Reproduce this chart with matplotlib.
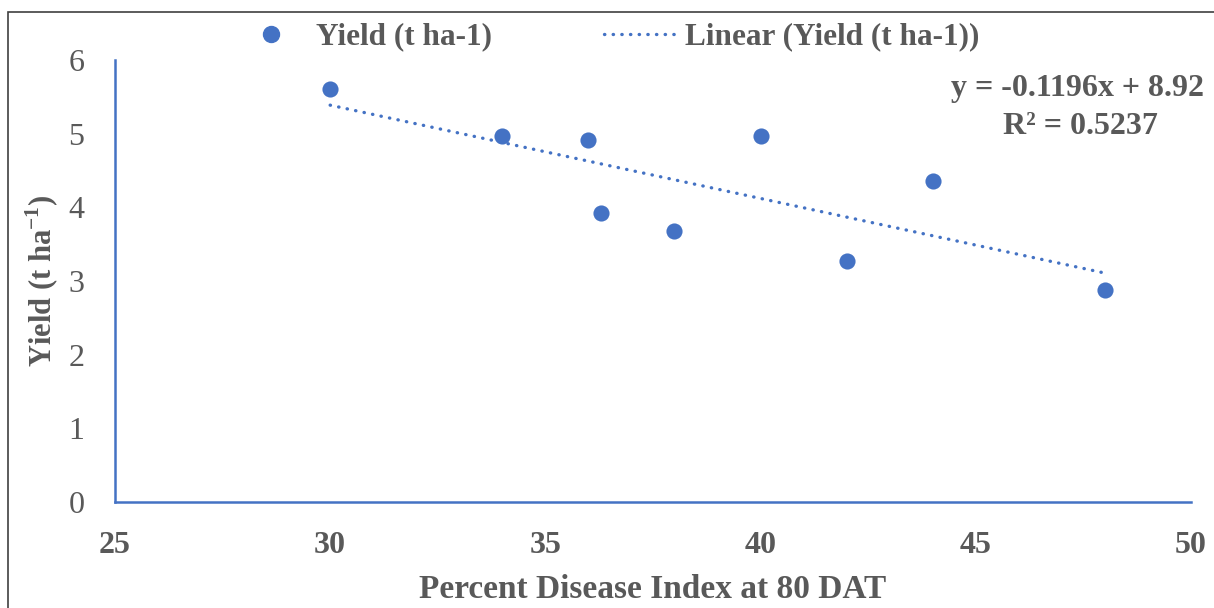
import matplotlib
matplotlib.use("Agg")
import matplotlib.pyplot as plt
import numpy as np
from matplotlib.lines import Line2D
from matplotlib.patches import Rectangle

plt.rcParams['font.family'] = ['Liberation Serif', 'DejaVu Serif']
plt.rcParams['mathtext.fontset'] = 'custom'
plt.rcParams['mathtext.rm'] = 'Liberation Serif'
plt.rcParams['mathtext.bf'] = 'Liberation Serif:bold'

# Data
pdi = [30, 34, 36, 36.3, 38, 40, 42, 44, 48]
yield_t = [5.6, 4.97, 4.91, 3.93, 3.68, 4.97, 3.27, 4.36, 2.88]
x_ticks = [25, 30, 35, 40, 45, 50]
y_ticks = [0, 1, 2, 3, 4, 5, 6]
eq_text = "y = -0.1196x + 8.92"
r2_text = "R² = 0.5237"

blue = '#4472C4'
gray = '#595959'
dots = (0, (0.1, 2.5))

fig = plt.figure(figsize=(12.14, 6.08), dpi=100)
ax = fig.add_axes([0.0947, 0.1743, 0.8863, 0.727])

ax.scatter(pdi, yield_t, s=135, color=blue, zorder=3, linewidths=0)

slope, intercept = np.polyfit(pdi, yield_t, 1)
xl = np.array([min(pdi), max(pdi)])
ax.plot(xl, slope * xl + intercept, color=blue, lw=2.4,
        linestyle=dots, dash_capstyle='round', zorder=2)

ax.set_xlim(25, 50)
ax.set_ylim(0, 6)
ax.set_xticks(x_ticks)
ax.set_yticks(y_ticks)
ax.tick_params(length=0)
ax.tick_params(axis='x', pad=21, labelsize=23, labelcolor=gray)
ax.tick_params(axis='y', pad=22, labelsize=23, labelcolor=gray)
for lab in ax.get_xticklabels():
    lab.set_fontweight('bold')

for s in ['top', 'right']:
    ax.spines[s].set_visible(False)
for s in ['left', 'bottom']:
    ax.spines[s].set_color(blue)
    ax.spines[s].set_linewidth(1.8)

ax.set_xlabel('Percent Disease Index at 80 DAT', fontsize=24, fontweight='bold',
              color=gray, labelpad=10)
ax.set_ylabel(r'Yield (t ha$^{\mathbf{-1}}$)', fontsize=22, fontweight='bold',
              color=gray, labelpad=2)
ax.yaxis.set_label_coords(-0.05, 0.5)

ax.text(1.012, 0.935, eq_text, transform=ax.transAxes, ha='right', va='center',
        fontsize=23, fontweight='bold', color=gray, clip_on=False)
ax.text(0.897, 0.85, r2_text, transform=ax.transAxes, ha='center', va='center',
        fontsize=23, fontweight='bold', color=gray)

handles = [
    Line2D([], [], marker='o', color=blue, linestyle='none', markersize=11.5),
    Line2D([], [], color=blue, lw=2.4, linestyle=dots, dash_capstyle='round'),
]
fig.legend(handles, ['Yield (t ha-1)', 'Linear (Yield (t ha-1))'],
           loc='center', bbox_to_anchor=(0.5, 0.939), ncol=2, frameon=False,
           prop={'size': 22.5, 'weight': 'bold'}, labelcolor=gray,
           handlelength=2.3, handletextpad=0.28, columnspacing=3.6)

fig.patches.append(Rectangle((8 / 1214, -0.1), 1.2, 1 - 12 / 608 + 0.1,
                             transform=fig.transFigure, fill=False,
                             edgecolor='#404040', lw=1.2))

fig.savefig('out.png', dpi=100)
